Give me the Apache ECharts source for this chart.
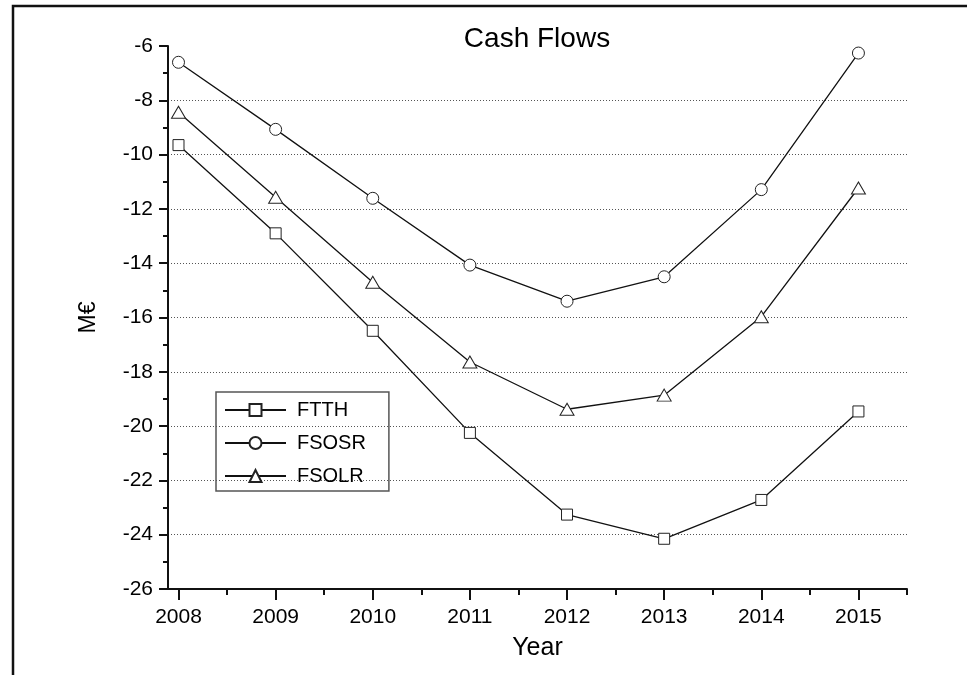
<!DOCTYPE html>
<html>
<head>
<meta charset="utf-8">
<script src="https://cdn.jsdelivr.net/npm/echarts@6/dist/echarts.min.js"></script>
<style>html,body{margin:0;padding:0;background:#fff}#c{width:967px;height:675px}</style>
</head>
<body>
<div id="c"></div>
<script>
var years = [2008, 2009, 2010, 2011, 2012, 2013, 2014, 2015];
var ftth  = [-9.65, -12.9, -16.49, -20.25, -23.26, -24.15, -22.72, -19.46];
var fsosr = [-6.6, -9.07, -11.61, -14.07, -15.4, -14.5, -11.29, -6.26];
var fsolr = [-8.44, -11.57, -14.7, -17.64, -19.38, -18.86, -15.97, -11.23];
var yearTicks = [2008, 2009, 2010, 2011, 2012, 2013, 2014, 2015];
var halfTicks = [2008.5, 2009.5, 2010.5, 2011.5, 2012.5, 2013.5, 2014.5, 2015.5];

function pairs(v) { return years.map(function (y, i) { return [y, v[i]]; }); }

var FONT = 'Liberation Sans, Arial, Helvetica, sans-serif';
var chart = echarts.init(document.getElementById('c'), null, {renderer: 'canvas'});
var xMin = 2007.892, xMax = 2015.5;
var mk = {color: '#ffffff', borderColor: '#222', borderWidth: 1};
var ls = {color: '#111', width: 1.3};
chart.setOption({
  animation: false,
  backgroundColor: '#fff',
  textStyle: {fontFamily: FONT},
  title: {
    text: 'Cash Flows', left: 537, textAlign: 'center', top: 25, padding: 0,
    textStyle: {fontFamily: FONT, fontSize: 28, fontWeight: 'normal', color: '#000'}
  },
  grid: {left: 168, right: 60, top: 46, bottom: 86},
  legend: {
    left: 216, top: 392, orient: 'vertical',
    padding: [8, 23, 5, 8],
    itemWidth: 61, itemHeight: 15, itemGap: 13,
    borderColor: '#555', borderWidth: 1.5,
    textStyle: {fontFamily: FONT, fontSize: 20, color: '#000', lineHeight: 20, padding: [0, 0, 0, 6]},
    data: ['FTTH', 'FSOSR', 'FSOLR']
  },
  graphic: [{
    type: 'polyline', silent: true,
    shape: {points: [[13, 675], [13, 6], [967, 6]]},
    style: {stroke: '#111', lineWidth: 2.5, fill: null}
  }],
  xAxis: [{
    type: 'value', min: xMin, max: xMax, position: 'bottom',
    name: 'Year', nameLocation: 'middle', nameGap: 47,
    nameTextStyle: {fontFamily: FONT, fontSize: 25, color: '#000'},
    axisLine: {show: true, onZero: false, lineStyle: {color: '#111', width: 2}},
    axisTick: {show: true, inside: false, length: 11, customValues: yearTicks, lineStyle: {color: '#111', width: 2}},
    axisLabel: {show: true, margin: 18, customValues: yearTicks, fontFamily: FONT, fontSize: 21, color: '#000',
      formatter: function (v) { return String(Math.round(v)); }},
    splitLine: {show: false}
  }, {
    type: 'value', min: xMin, max: xMax, position: 'bottom',
    axisLine: {show: false, onZero: false},
    axisTick: {show: true, inside: false, length: 6, customValues: halfTicks, lineStyle: {color: '#111', width: 2}},
    axisLabel: {show: false},
    splitLine: {show: false}
  }],
  yAxis: {
    type: 'value', min: -26, max: -6, interval: 2,
    name: 'M€', nameLocation: 'middle', nameGap: 68, nameRotate: 90,
    nameTextStyle: {fontFamily: FONT, fontSize: 23, color: '#000'},
    axisLine: {show: true, onZero: false, lineStyle: {color: '#111', width: 2}},
    axisTick: {show: true, inside: false, length: 9, lineStyle: {color: '#111', width: 2}},
    minorTick: {show: true, splitNumber: 2, length: 5, lineStyle: {color: '#111', width: 2}},
    axisLabel: {margin: 15, fontFamily: FONT, fontSize: 21, color: '#000'},
    splitLine: {show: true, showMinLine: false, showMaxLine: false, lineStyle: {color: '#555', width: 1, type: [1, 2]}}
  },
  series: [{
    name: 'FTTH', type: 'line', xAxisIndex: 0, data: pairs(ftth),
    symbol: 'rect', symbolSize: 11, itemStyle: mk, lineStyle: ls, emphasis: {disabled: true}
  }, {
    name: 'FSOSR', type: 'line', xAxisIndex: 0, data: pairs(fsosr),
    symbol: 'circle', symbolSize: 12, itemStyle: mk, lineStyle: ls, emphasis: {disabled: true}
  }, {
    name: 'FSOLR', type: 'line', xAxisIndex: 0, data: pairs(fsolr),
    symbol: 'triangle', symbolSize: [14, 12], itemStyle: mk, lineStyle: ls, emphasis: {disabled: true}
  }]
});
</script>
</body>
</html>
